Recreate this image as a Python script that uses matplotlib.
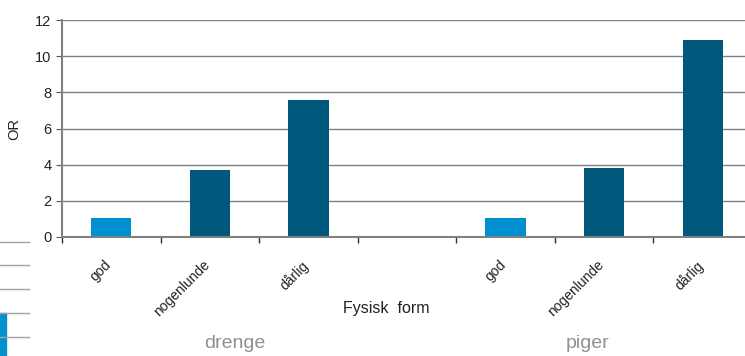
import numpy as np
import matplotlib.pyplot as plt
import matplotlib.transforms as mtransforms

plt.rcParams['font.family'] = ['Liberation Sans', 'DejaVu Sans']

categories = ['god', 'nogenlunde', 'dårlig', '', 'god', 'nogenlunde', 'dårlig']
values = [1.05, 3.7, 7.6, np.nan, 1.05, 3.8, 10.9]
groups = ['drenge', 'piger']
light, dark = '#0090cf', '#00597d'
colors = [light, dark, dark, dark, light, dark, dark]

fig = plt.figure(figsize=(7.45, 3.56), dpi=100)
ax = fig.add_axes([62 / 745, 119 / 356, 690 / 745, 217 / 356])

x = np.arange(len(categories))
ax.bar(x, values, width=0.41, color=colors, zorder=3)

ax.set_xlim(-0.5, len(categories) - 0.5)
ax.set_ylim(0, 12)
ax.set_yticks(np.arange(0, 13, 2))
ax.yaxis.grid(True, color='#808080', lw=1)
ax.set_axisbelow(True)

ax.set_xticks(x)
ax.set_xticklabels(categories, rotation=45, ha='right', rotation_mode='anchor',
                   fontsize=10, color='#222222')
ax.tick_params(axis='x', length=0, pad=15)
shift = mtransforms.ScaledTranslation(-7 / 100, 0, fig.dpi_scale_trans)
for lab in ax.get_xticklabels():
    lab.set_transform(lab.get_transform() + shift)
ax.set_xticks(np.arange(-0.5, len(categories)), minor=True)
ax.tick_params(axis='x', which='minor', length=4, color='#333333', width=1)
ax.tick_params(axis='y', length=4, color='#555555', labelsize=10.5, labelcolor='#222222')

for s in ['top', 'right']:
    ax.spines[s].set_visible(False)
ax.spines['left'].set_color('#808080')
ax.spines['left'].set_linewidth(1.5)
ax.spines['bottom'].set_color('#808080')
ax.spines['bottom'].set_linewidth(1.5)
ax.spines['bottom'].set_zorder(4)

ax.set_ylabel('OR', fontsize=10.5, color='#222222', labelpad=10)
fig.text(386 / 745, 1 - 308 / 356, 'Fysisk  form', ha='center', va='center',
         fontsize=11.5, color='#222222')
fig.text(235 / 745, 1 - 344 / 356, groups[0], ha='center', va='center',
         fontsize=14, color='#909090')
fig.text(588 / 745, 1 - 344 / 356, groups[1], ha='center', va='center',
         fontsize=14, color='#909090')

# leftover legend fragment at bottom left
for yy in [242, 265, 289, 313, 337]:
    fig.add_artist(plt.Line2D([0, 29 / 745], [1 - yy / 356] * 2, color='#a0a0a0', lw=1))
fig.add_artist(plt.Rectangle((0, 0), 6 / 745, 43 / 356, color=light))

fig.savefig('out.png', dpi=100)
